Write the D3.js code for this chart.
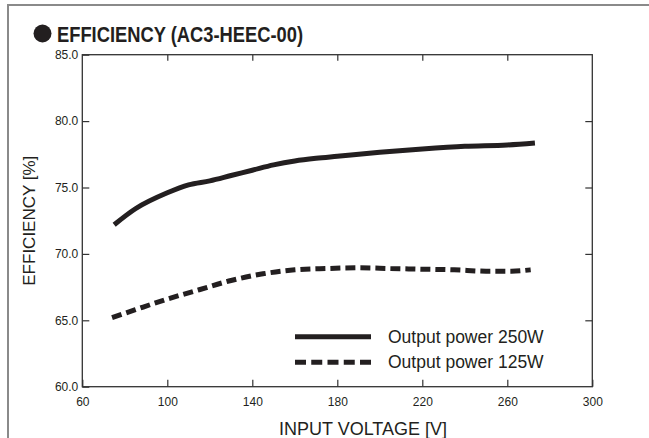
<!DOCTYPE html>
<html>
<head>
<meta charset="utf-8">
<script src="https://cdn.jsdelivr.net/npm/d3@7"></script>
<style>
  body { margin: 0; background: #fff; }
  text { font-family: "Liberation Sans", Arial, Helvetica, sans-serif; fill: #231f20; }
</style>
</head>
<body>
<script>
// values
var volt250 = [75, 85, 100, 110, 120, 130, 140, 150, 160, 170, 180, 200, 220, 240, 260, 273];
var eff250  = [72.2, 73.4, 74.6, 75.2, 75.5, 75.9, 76.3, 76.7, 77.0, 77.2, 77.35, 77.65, 77.9, 78.1, 78.2, 78.35];

var volt125 = [74, 85, 100, 115, 130, 145, 160, 175, 190, 205, 220, 235, 250, 262, 271];
var eff125  = [65.2, 65.8, 66.6, 67.3, 68.0, 68.5, 68.8, 68.9, 68.95, 68.9, 68.85, 68.8, 68.7, 68.7, 68.8];

var xTicks = [60, 100, 140, 180, 220, 260, 300];
var yTicks = [60, 65, 70, 75, 80, 85];
var seriesNames = ['Output power 250W', 'Output power 125W'];

var W = 649, H = 438;
var plotL = 82.3, plotR = 592.3, plotT = 54.7, plotB = 386.7;

var svg = d3.select('body').append('svg')
    .attr('width', W)
    .attr('height', H);

// outer frame
svg.append('path')
    .attr('d', 'M8,' + H + 'V5H' + W)
    .attr('fill', 'none')
    .attr('stroke', '#8a8a8a')
    .attr('stroke-width', 2);

// title
svg.append('circle')
    .attr('cx', 42.5)
    .attr('cy', 33.5)
    .attr('r', 9)
    .attr('fill', '#231f20');
svg.append('text')
    .attr('x', 57)
    .attr('y', 42)
    .attr('textLength', 246)
    .attr('lengthAdjust', 'spacingAndGlyphs')
    .style('font-size', '22px')
    .style('font-weight', 'bold')
    .text('EFFICIENCY (AC3-HEEC-00)');

var x = d3.scaleLinear().domain([60, 300]).range([plotL, plotR]);
var y = d3.scaleLinear().domain([60, 85]).range([plotB, plotT]);

var axisColor = '#333';

function styleAxis(g) {
    g.attr('color', '#231f20');
    g.select('.domain').remove();
    g.selectAll('line').attr('stroke', axisColor).attr('stroke-width', 1.2);
    g.selectAll('text').style('font-size', '12px').attr('fill', '#231f20');
}

// bottom axis, ticks inward
svg.append('g')
    .attr('transform', 'translate(0,' + plotB + ')')
    .call(d3.axisBottom(x).tickValues(xTicks).tickSizeInner(-7).tickSizeOuter(0).tickPadding(11).tickFormat(d3.format('d')))
    .call(styleAxis);
// top axis ticks only
svg.append('g')
    .attr('transform', 'translate(0,' + plotT + ')')
    .call(d3.axisTop(x).tickValues(xTicks.slice(1, -1)).tickSizeInner(-6).tickSizeOuter(0).tickFormat(''))
    .call(styleAxis);
// left axis
svg.append('g')
    .attr('transform', 'translate(' + plotL + ',0)')
    .call(d3.axisLeft(y).tickValues(yTicks).tickSizeInner(-7).tickSizeOuter(0).tickPadding(4).tickFormat(d3.format('.1f')))
    .call(styleAxis);
// right axis ticks only
svg.append('g')
    .attr('transform', 'translate(' + plotR + ',0)')
    .call(d3.axisRight(y).tickValues(yTicks.slice(1, -1)).tickSizeInner(-7).tickSizeOuter(0).tickFormat(''))
    .call(styleAxis);

// plot frame
svg.append('rect')
    .attr('x', plotL)
    .attr('y', plotT)
    .attr('width', plotR - plotL)
    .attr('height', plotB - plotT)
    .attr('fill', 'none')
    .attr('stroke', axisColor)
    .attr('stroke-width', 1.3);

// axis titles
svg.append('text')
    .attr('x', 279)
    .attr('y', 435)
    .style('font-size', '18px')
    .text('INPUT VOLTAGE [V]');
svg.append('text')
    .attr('transform', 'translate(35,' + ((plotT + plotB) / 2) + ') rotate(-90)')
    .attr('text-anchor', 'middle')
    .style('font-size', '17px')
    .text('EFFICIENCY [%]');

// curves
var line = d3.line()
    .x(function(d) { return x(d[0]); })
    .y(function(d) { return y(d[1]); })
    .curve(d3.curveMonotoneX);

svg.append('path')
    .datum(d3.zip(volt250, eff250))
    .attr('d', line)
    .attr('fill', 'none')
    .attr('stroke', '#231f20')
    .attr('stroke-width', 5);

svg.append('path')
    .datum(d3.zip(volt125, eff125))
    .attr('d', line)
    .attr('fill', 'none')
    .attr('stroke', '#231f20')
    .attr('stroke-width', 5)
    .attr('stroke-dasharray', '10,5');

// legend
var legend = svg.append('g');
var legY = [336.7, 362.3];
var dashes = [null, '11,5.25'];
seriesNames.forEach(function(name, i) {
    legend.append('line')
        .attr('x1', 295)
        .attr('x2', 371)
        .attr('y1', legY[i])
        .attr('y2', legY[i])
        .attr('stroke', '#231f20')
        .attr('stroke-width', 5)
        .attr('stroke-dasharray', dashes[i]);
    legend.append('text')
        .attr('x', 388)
        .attr('y', legY[i] + 6)
        .style('font-size', '17.5px')
        .text(name);
});
</script>
</body>
</html>
